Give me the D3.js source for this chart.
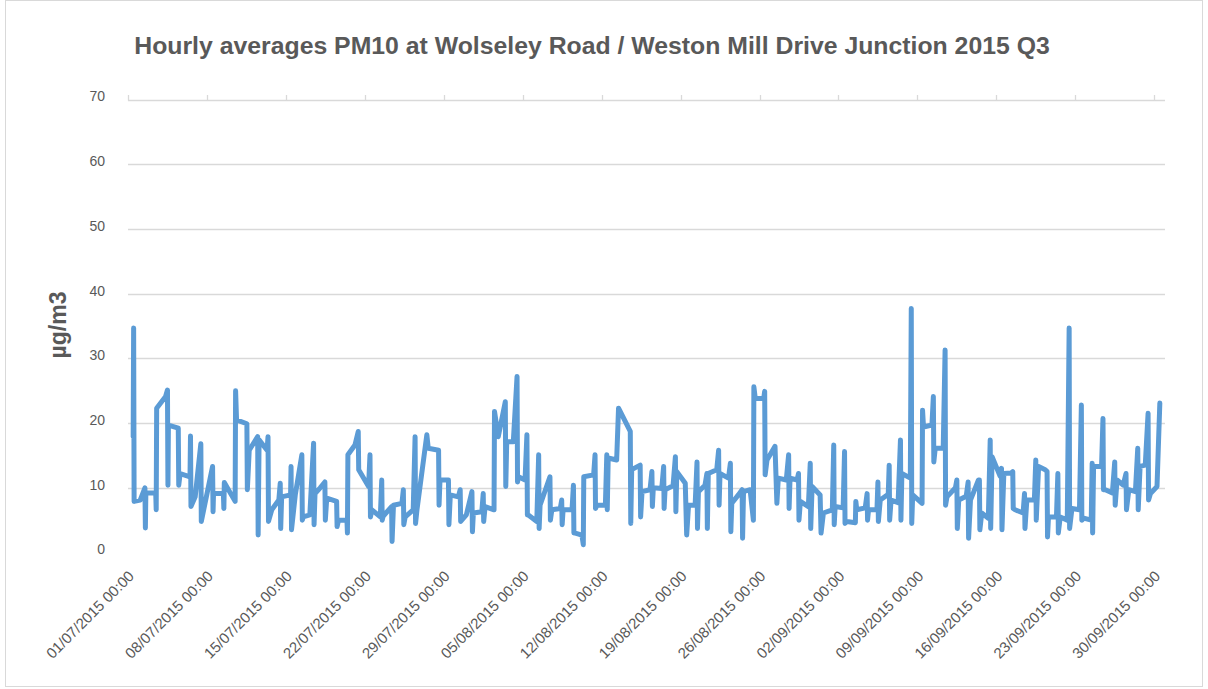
<!DOCTYPE html>
<html>
<head>
<meta charset="utf-8">
<script src="https://cdn.jsdelivr.net/npm/d3@7"></script>
<style>
  body { margin: 0; background: #fff; }
  svg { display: block; font-family: "Liberation Sans", Arial, sans-serif; }
</style>
</head>
<body>
<script>
// hours counted from 01/07/2015 00:00 (µg/m3)
const hours = [11,12,13,26,36,37,38,59,60,61,80,84,85,86,107,108,111,132,133,134,
  143,155,156,180,181,182,203,204,205,228,229,231,253,254,258,276,277,279,296,298,
  299,306,321,324,325,327,346,347,348,356,370,371,373,387,395,396,398,409,419,420,
  423,444,445,448,466,467,468,483,490,491,512,515,516,519,537,540,541,543,561,562,
  565,583,586,587,590,607,611,612,615,636,639,661,662,664,682,683,686,703,707,708,
  720,732,733,735,753,756,757,760,779,780,788,803,804,806,820,828,829,831,845,849,
  850,852,870,874,875,877,898,899,902,920,923,924,926,945,948,949,952,966,969,970,
  991,994,995,998,1016,1019,1020,1022,1040,1044,1069,1070,1072,1090,1091,1094,1111,1115,1116,1118,
  1136,1140,1141,1143,1160,1165,1166,1168,1186,1189,1193,1207,1211,1212,1214,1228,1232,1233,1235,1253,
  1257,1258,1260,1278,1282,1283,1285,1299,1307,1308,1310,1324,1331,1332,1335,1353,1355,1356,1360,1377,
  1381,1384,1401,1406,1407,1409,1424,1427,1428,1431,1448,1452,1453,1456,1473,1475,1480,1499,1502,1503,
  1505,1522,1525,1526,1530,1548,1549,1551,1569,1573,1574,1576,1594,1596,1597,1601,1618,1620,1621,1624,
  1639,1644,1645,1647,1665,1667,1668,1670,1690,1691,1693,1711,1714,1715,1718,1735,1739,1740,1743,1761,
  1764,1765,1768,1784,1788,1789,1793,1810,1812,1813,1817,1831,1835,1836,1839,1856,1859,1860,1864,1880,
  1883,1884,1888,1905,1908,1909,1913,1929,1932,1933,1938,1952,1956,1957,1959,1976,1979,1980,1984,1999,
  2003,2004,2009,2025,2029,2030,2034,2050,2052,2053,2055,2072,2075,2076,2080,2095,2100,2101,2105,2118,
  2124,2125,2130,2144,2149,2150,2154,2165,2171,2172,2176,2190,2196];

const pm10 = [17.9,34.7,7.9,8.1,10.0,3.8,9.2,9.2,6.6,22.3,24.1,25.1,10.4,19.7,19.2,10.4,12.2,11.7,18.0,7.1,
  8.6,16.8,4.8,13.3,6.3,9.1,9.1,6.8,10.8,7.9,25.0,20.5,19.9,9.7,15.8,17.9,2.7,17.4,15.8,17.9,
  4.8,6.6,8.1,10.7,3.7,8.6,8.9,13.3,3.5,8.9,15.1,5.0,5.5,5.8,16.9,4.3,9.1,10.0,10.9,5.0,
  8.4,7.9,4.0,5.0,5.0,3.0,15.1,16.6,18.7,12.8,10.2,15.1,5.5,6.6,5.5,11.2,5.0,5.6,7.1,1.7,
  7.3,7.6,9.7,4.3,5.5,6.6,17.9,4.5,6.6,18.2,16.1,15.8,7.3,11.2,11.2,4.3,8.9,8.6,9.7,4.8,
  5.8,9.4,3.2,6.1,6.3,9.1,4.8,7.1,6.6,21.8,17.9,23.3,10.2,17.1,17.1,27.2,10.9,11.7,11.2,18.2,
  5.8,5.8,4.8,15.1,3.7,7.3,11.7,5.0,6.6,6.8,8.1,4.3,6.6,6.6,10.4,3.0,3.0,2.7,1.2,11.7,
  12.0,15.1,6.8,7.3,7.3,15.1,6.6,14.6,14.3,22.3,18.7,4.5,12.8,13.5,5.5,9.4,9.7,12.5,7.1,10.0,
  9.9,13.3,6.8,9.7,10.3,14.8,6.3,12.5,10.7,2.7,7.3,7.3,14.0,3.7,9.4,10.4,12.2,3.7,12.2,12.8,
  15.8,7.3,12.2,11.5,13.8,3.2,7.6,8.9,9.7,2.2,9.4,9.7,5.0,25.6,23.8,23.8,24.9,12.0,14.3,16.4,
  7.6,11.5,11.2,15.1,6.8,11.5,11.2,12.2,5.0,7.9,7.1,13.8,3.7,10.2,8.9,3.0,6.1,6.6,16.6,4.3,
  7.1,6.9,15.6,4.5,4.8,4.6,7.9,6.6,6.9,9.1,5.0,6.6,6.6,10.9,4.8,8.1,9.0,13.5,5.0,8.1,
  7.7,17.4,5.0,12.2,11.5,37.7,4.5,8.9,7.6,22.0,19.4,19.7,24.1,14.0,16.1,16.1,31.3,7.3,8.6,10.0,
  11.2,3.7,8.1,8.7,10.9,2.2,8.1,11.2,11.2,3.5,6.1,5.3,17.4,3.7,14.8,11.8,13.0,3.5,12.2,12.3,
  12.5,6.8,6.6,6.1,9.1,3.7,8.1,8.1,14.3,5.0,13.3,12.8,12.5,2.4,5.5,5.5,12.2,3.0,5.5,5.0,
  34.7,3.7,6.8,6.6,22.8,5.0,5.3,5.0,13.8,3.0,13.3,13.3,20.7,9.7,9.7,9.2,14.0,7.3,11.2,10.4,
  12.2,6.6,9.7,9.4,16.1,6.6,13.3,13.5,21.5,8.1,9.1,10.2,23.1];

const tickHours = [0,168,336,504,672,840,1008,1176,1344,1512,1680,1848,2016,2184];
const tickLabels = ["01/07/2015 00:00","08/07/2015 00:00","15/07/2015 00:00","22/07/2015 00:00",
  "29/07/2015 00:00","05/08/2015 00:00","12/08/2015 00:00","19/08/2015 00:00","26/08/2015 00:00",
  "02/09/2015 00:00","09/09/2015 00:00","16/09/2015 00:00","23/09/2015 00:00","30/09/2015 00:00"];
const yTicks = [0,10,20,30,40,50,60,70];

const title = "Hourly averages PM10 at Wolseley Road / Weston Mill Drive Junction 2015 Q3";
const yTitle = "µg/m3";

const width = 1208, height = 689;
const textColor = "#595959";
const gridColor = "#d9d9d9";
const lineColor = "#5b9bd5";

const svg = d3.select("body").append("svg")
    .attr("width", width)
    .attr("height", height);

// chart frame
svg.append("rect")
    .attr("x", 5.5).attr("y", 0.5)
    .attr("width", 1197).attr("height", 686)
    .attr("fill", "#fff")
    .attr("stroke", gridColor);

const x = d3.scaleLinear().domain([0, 2207]).range([128, 1165]);
const y = d3.scaleLinear().domain([0, 70]).range([552.5, 99.5]);

svg.append("text")
    .attr("x", 592).attr("y", 54)
    .attr("text-anchor", "middle")
    .attr("font-size", 24.8)
    .attr("font-weight", "bold")
    .attr("fill", textColor)
    .text(title);

svg.append("text")
    .attr("transform", `translate(66,325) rotate(-90)`)
    .attr("text-anchor", "middle")
    .attr("font-size", 23)
    .attr("font-weight", "bold")
    .attr("fill", textColor)
    .text(yTitle);

// gridlines (no line at 0)
svg.append("g")
  .selectAll("line")
  .data(yTicks.filter(d => d > 0))
  .join("line")
    .attr("x1", x(0)).attr("x2", x(2207))
    .attr("y1", d => Math.round(y(d)) + 0.5)
    .attr("y2", d => Math.round(y(d)) + 0.5)
    .attr("stroke", gridColor)
    .attr("stroke-width", 1.3);

// y labels
svg.append("g")
  .selectAll("text")
  .data(yTicks)
  .join("text")
    .attr("x", 105)
    .attr("y", d => y(d) - 3)
    .attr("dy", "0.35em")
    .attr("text-anchor", "end")
    .attr("font-size", 14)
    .attr("fill", textColor)
    .text(d => d);

// category axis sits on the 70 line, tick marks pointing up
svg.append("g")
  .selectAll("line")
  .data(tickHours)
  .join("line")
    .attr("x1", d => Math.round(x(d)) + 0.5)
    .attr("x2", d => Math.round(x(d)) + 0.5)
    .attr("y1", Math.round(y(70)) + 0.5)
    .attr("y2", Math.round(y(70)) - 5)
    .attr("stroke", gridColor)
    .attr("stroke-width", 1.3);

svg.append("g")
  .selectAll("text")
  .data(tickHours)
  .join("text")
    .attr("transform", d => `translate(${x(d) + 7},${577}) rotate(-45)`)
    .attr("text-anchor", "end")
    .attr("font-size", 15)
    .attr("fill", textColor)
    .text((d, i) => tickLabels[i]);

const line = d3.line()
    .x(d => x(d[0]))
    .y(d => y(d[1]));

svg.append("path")
    .datum(d3.zip(hours, pm10))
    .attr("fill", "none")
    .attr("stroke", lineColor)
    .attr("stroke-width", 5)
    .attr("stroke-linejoin", "round")
    .attr("stroke-linecap", "round")
    .attr("d", line);
</script>
</body>
</html>
